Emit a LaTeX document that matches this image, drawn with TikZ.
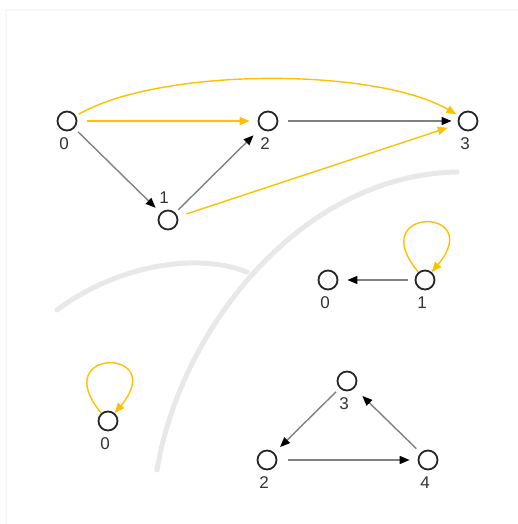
\documentclass[tikz,border=0pt]{standalone}
\usepackage{fontspec}
\setmainfont{Liberation Sans}
\usepackage{tikz}
\usetikzlibrary{arrows.meta}
\definecolor{amber}{HTML}{FFC000}
\definecolor{track}{HTML}{E8E8E8}

\begin{document}
\begin{tikzpicture}[x=1pt,y=1pt,font=\fontsize{17}{17}\selectfont,
    vtx/.style={circle,draw=black!85,line width=1.8pt,minimum size=19pt,inner sep=0pt},
    every label/.style={text=black!80,inner sep=1pt,xshift=-3pt},
    label distance=5pt,
    plain/.style={draw=black!50,line width=1.4pt,-{Triangle[length=10pt,width=8pt,color=black]}},
    gold/.style={draw=amber,line width=1.4pt,-{Triangle[length=10pt,width=8pt]}}]
    \useasboundingbox (0,0) rectangle (518,524);
    \draw[black!3,line width=1.5pt] (6,0) -- (6,514) -- (518,514);
    \draw[track,line width=5pt,line cap=round] (57,214) .. controls (110,254) and (190,274) .. (247,252);
    \draw[track,line width=5pt,line cap=round] (157,54) .. controls (180,194) and (300,349) .. (457,352);
    \node[vtx,label=below:0] (a0) at (67,403) {};
    \node[vtx,label={[xshift=-1pt]above:1}] (a1) at (168,304) {};
    \node[vtx,label=below:2] (a2) at (268,403) {};
    \node[vtx,label=below:3] (a3) at (468,403) {};
    \node[vtx,label=below:0] (b0) at (328,244) {};
    \node[vtx,label=below:1] (b1) at (425,244) {};
    \node[vtx,label=below:0] (c0) at (108,103) {};
    \node[vtx,label=below:3] (d3) at (347,143) {};
    \node[vtx,label=below:2] (d2) at (267,64) {};
    \node[vtx,label=below:4] (d4) at (428,64) {};
    \path (a0) edge[gold,out=30,in=150,looseness=0.65,shorten <=3pt,shorten >=3pt] (a3);
    \path (a0) edge[gold,shorten <=10pt,shorten >=8pt] (a2);
    \path (a0) edge[plain,shorten <=5pt,shorten >=7pt] (a1);
    \path (a1) edge[plain,shorten <=4pt,shorten >=10pt] (a2);
    \path (a2) edge[plain,shorten <=10pt,shorten >=6pt] (a3);
    \path (a1) edge[gold,shorten <=9pt,shorten >=11pt] (a3);
    \path (b1) edge[plain,shorten <=7pt,shorten >=9pt] (b0);
    \path (b1) edge[gold,out=130,in=50,distance=86pt] (b1);
    \path (c0) edge[gold,out=130,in=50,distance=86pt] (c0);
    \path (d3) edge[plain,shorten <=5pt,shorten >=8pt] (d2);
    \path (d2) edge[plain,shorten <=11pt,shorten >=8pt] (d4);
    \path (d4) edge[plain,shorten <=6pt,shorten >=11pt] (d3);
\end{tikzpicture}
\end{document}
